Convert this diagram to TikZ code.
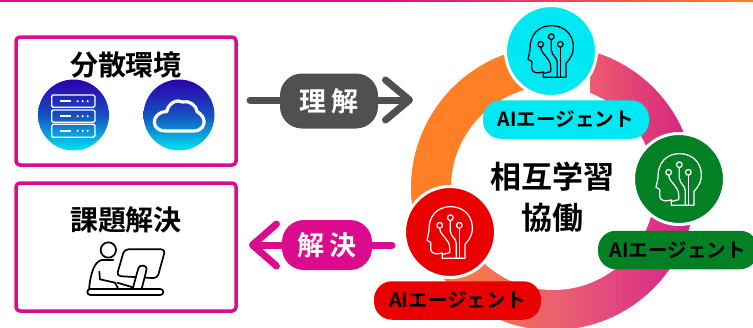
\documentclass[tikz,border=0pt]{standalone}
\usepackage{fontspec}
\setmainfont{Noto Sans CJK JP}[BoldFont={Noto Sans CJK JP Bold}]
\usetikzlibrary{arrows.meta,calc}
\definecolor{pinkc}{HTML}{DC0A8C}
\definecolor{grayc}{HTML}{505050}
\definecolor{cyanc}{HTML}{00E8F2}
\definecolor{greenc}{HTML}{048024}
\definecolor{redc}{HTML}{EA0000}
\definecolor{orangec}{HTML}{FF7F27}
\definecolor{blueTop}{HTML}{2C00AE}
\definecolor{blueMid}{HTML}{1650C0}
\definecolor{blueBot}{HTML}{00E6F2}
\definecolor{ringA}{HTML}{EC5C70}
\definecolor{ringB}{HTML}{D2207F}
\definecolor{ringC}{HTML}{F97E42}
\definecolor{ringD}{HTML}{E95A76}
\definecolor{ringE}{HTML}{D6208C}
\newcommand{\headicon}[3]{%
 \begin{scope}[shift={(#1,#2)},x=0.3333pt,y=-0.3333pt,draw=#3,line width=1.25pt,line join=round,line cap=round]
 \begin{scope}[shift={(-213,-153)}]
  \draw (190,232) -- (258,232) -- (258,190) .. controls (275,172) and (282,155) .. (280,135)
   .. controls (276,95) and (245,76) .. (212,77) .. controls (175,78) and (148,105) .. (150,150)
   -- (144,178) -- (155,184) -- (155,205) .. controls (157,218) and (170,222) .. (190,216) -- (190,232);
  \draw (182,142) .. controls (185,165) and (212,175) .. (212,200) -- (212,215) -- (192,220);
  \draw (214,119) -- (214,150) .. controls (216,170) and (232,170) .. (232,190) -- (232,232);
  \draw (241,142) -- (241,232);
  \draw (182,133) circle[radius=8.5] (214,110) circle[radius=8.5] (241,133) circle[radius=8.5];
 \end{scope}\end{scope}}
\tikzset{
 framebox/.style={draw=pinkc,line width=3.5pt,rounded corners=4pt,fill=white},
 agentc/.style={circle,draw=white,line width=3pt,minimum size=91pt,inner sep=0pt},
 agentl/.style={rounded corners=18pt,minimum width=#1,minimum height=38.5pt,inner sep=0pt,font=\fontsize{19.6}{20}\selectfont\bfseries,text=black},
 badge/.style={rounded corners=22pt,text=white,minimum width=98pt,minimum height=55pt,inner sep=0pt,font=\fontsize{27}{27}\selectfont\bfseries},
 title/.style={font=\fontsize{28}{28}\selectfont\bfseries,text=black,inner sep=0pt},
 bigt/.style={font=\fontsize{31}{31}\selectfont\bfseries,text=black,inner sep=0pt},
 flow/.style={line width=7pt,line cap=round,-{Straight Barb[length=24pt,width=#1,line cap=round,line join=round]}},
 bluec/.style={circle,minimum size=71pt,inner sep=0pt,top color=blueTop,bottom color=blueBot,middle color=blueMid}
}
\begin{document}
\begin{tikzpicture}[x=1pt,y=-1pt]
\useasboundingbox (0,0) rectangle (753,327);
\fill[white] (0,0) rectangle (753,327);
% top rule
\shade[left color=pinkc,right color=orangec,middle color=pinkc] (0,0) rectangle (753,1.6);
% ring
\def\cx{553}\def\cy{188}\def\Ri{102}\def\Ro{142}
\begin{scope}
 \clip (\cx,\cy) circle[radius=\Ro];
 \fill[orangec] (\cx-\Ro,\cy-\Ro) rectangle (\cx,\cy+\Ro);
 \begin{scope}
  \clip (\cx-2,\cy) -- (\cx-2,\cy-200) -- (\cx+200,\cy-200) -- (\cx+200,\cy-9) -- cycle;
  \shade[left color=ringA,right color=ringB] (590,\cy-\Ro) rectangle (\cx+\Ro,\cy);
 \end{scope}
 \begin{scope}
  \clip (\cx,\cy) -- (\cx+200,\cy-9) -- (\cx+200,\cy+200) -- (\cx-200,\cy+200) -- (\cx-132,\cy+56) -- cycle;
  \shade[left color=ringC,right color=ringE,middle color=ringD] (450,\cy-9) rectangle (\cx+\Ro,\cy+\Ro);
 \end{scope}
\end{scope}
\fill[white] (\cx,\cy) circle[radius=\Ri];
% frames
\node[framebox,minimum width=220pt,minimum height=128pt,inner sep=0pt] (env) at (126,101) {};
\node[framebox,minimum width=220pt,minimum height=128pt,inner sep=0pt] (solve) at (126,247) {};
\node[title] (envt) at (126,65) {分散環境};
\node[title] (solvet) at (126,220) {課題解決};
% server icon
\node[bluec] (srv) at (73.5,115) {};
\node[bluec] (cld) at (179,115) {};
\begin{scope}[x=0.3333pt,y=-0.3333pt,draw=white,line width=1.3pt]
 \foreach \a/\b in {285/322,330/367,373/412}{
  \draw[rounded corners=1.5pt] (155,\a) rectangle (285,\b);
  \draw[line width=1.5pt] (180,{(\a+\b)/2}) -- (212,{(\a+\b)/2});
  \foreach \d in {233,248,263}\fill[white] (\d,{(\a+\b)/2}) circle[radius=3.6];
 }
 \draw[line width=3.2pt,line join=round] (495,393) -- (580,393) .. controls (605,393) and (618,375) .. (610,355)
  .. controls (606,345) and (597,338) .. (592,336) .. controls (590,315) and (565,300) .. (548,306)
  .. controls (530,296) and (505,310) .. (500,335) .. controls (475,335) and (462,352) .. (463,368)
  .. controls (464,383) and (478,393) .. (495,393) -- cycle;
\end{scope}
% person icon
\begin{scope}[shift={(0,170)},x=0.3333pt,y=-0.3333pt,draw=black,line width=1.7pt,line join=round,line cap=round]
 \draw (325,240) circle[radius=23];
 \draw (340,270) -- (305,270) .. controls (283,275) and (272,310) .. (268,350) -- (268,357);
 \draw (298,305) -- (300,328) -- (345,338) -- (355,357);
 \draw[rounded corners=4pt] (373,238) -- (496,238) -- (472,325) -- (350,318) -- cycle;
 \draw[fill=white] (398,357) -- (415,295) .. controls (418,282) and (442,285) .. (440,298) -- (425,357);
 \draw (352,338) -- (398,352);
 \draw[rounded corners=3pt] (262,357) rectangle (490,375);
\end{scope}
% flows
\coordinate (a1) at (250,100);
\coordinate (a2) at (413,100);
\coordinate (b1) at (392,245);
\coordinate (b2) at (249,245);
\draw[flow=40pt,draw=grayc] (a1) -- (a2);
\draw[flow=42pt,draw=pinkc] (b1) -- (b2);
\node[badge,fill=grayc] (ba) at (329,101) {理\hspace{6pt}解};
\node[badge,fill=pinkc,minimum width=90pt,minimum height=50pt] (bb) at (327,245) {解\hspace{6pt}決};
% agents
\node[agentc,fill=cyanc] (top) at (551,51) {};
\node[agentc,fill=greenc] (grn) at (679,179) {};
\node[agentc,fill=redc] (rd) at (450,232) {};
\headicon{551}{51}{black}
\headicon{679}{179}{white}
\headicon{450}{232}{white}
\node[agentl=166pt,fill=cyanc] (lt) at (566,119.5) {AIエージェント};
\node[agentl=160pt,fill=greenc] (lg) at (678,250) {AIエージェント};
\node[agentl=167pt,fill=redc] (lr) at (457.5,300.5) {AIエージェント};
\node[bigt] (c1) at (552,177) {相互学習};
\node[bigt] (c2) at (552,218) {協働};
\end{tikzpicture}
\end{document}
